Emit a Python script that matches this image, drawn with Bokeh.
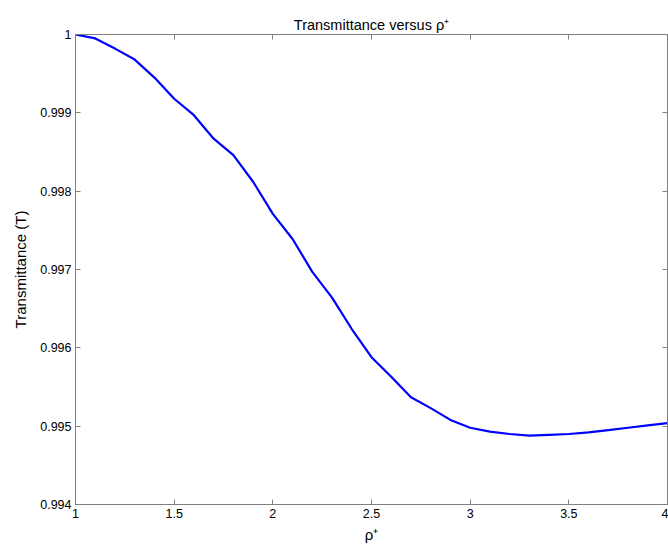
from bokeh.plotting import figure
from bokeh.models import LinearAxis, FixedTicker, Range1d
from bokeh.embed import file_html
from bokeh.resources import INLINE

# data
rho = [1.0, 1.1, 1.2, 1.3, 1.4, 1.5, 1.6, 1.7, 1.8, 1.9, 2.0,
       2.1, 2.2, 2.3, 2.4, 2.5, 2.6, 2.7, 2.8, 2.9, 3.0,
       3.1, 3.2, 3.3, 3.4, 3.5, 3.6, 3.7, 3.8, 3.9, 4.0]
transmittance = [1.0, 0.99995, 0.99982, 0.99968, 0.99945, 0.99918, 0.99897, 0.99867, 0.99846, 0.99812, 0.99771,
                 0.99739, 0.99697, 0.99664, 0.99624, 0.99588, 0.99563, 0.99537, 0.99523, 0.99508, 0.99498,
                 0.99493, 0.99490, 0.99488, 0.99489, 0.99490, 0.99492, 0.99495, 0.99498, 0.99501, 0.99504]

x_ticks = [1, 1.5, 2, 2.5, 3, 3.5, 4]
x_tick_labels = ["1", "1.5", "2", "2.5", "3", "3.5", "4"]
y_ticks = [0.994, 0.995, 0.996, 0.997, 0.998, 0.999, 1.0]
y_tick_labels = ["0.994", "0.995", "0.996", "0.997", "0.998", "0.999", "1"]

FONT = "Liberation Sans"
AXC = "#808080"

p = figure(width=668, height=550, output_backend="svg", toolbar_location=None,
           x_range=Range1d(1, 4), y_range=Range1d(0.994, 1.0),
           min_border_left=75, min_border_right=1, min_border_top=34, min_border_bottom=46,
           title="Transmittance versus \u03c1\u207a")
p.title.align = "center"
p.title.text_font = FONT
p.title.text_font_size = "14.5px"
p.title.text_font_style = "normal"
p.title.text_color = "black"
p.title.offset = 0
p.title.standoff = 4

p.line(rho, transmittance, line_color="#0000ff", line_width=2.2)

p.xgrid.visible = False
p.ygrid.visible = False
p.outline_line_color = AXC
p.background_fill_color = "white"
p.border_fill_color = "white"

def style(ax):
    ax.axis_line_color = AXC
    ax.major_tick_line_color = AXC
    ax.major_tick_in = 5
    ax.major_tick_out = 0
    ax.minor_tick_in = 0
    ax.minor_tick_out = 0
    ax.major_label_text_font = FONT
    ax.major_label_text_font_size = "12.5px"
    ax.major_label_text_color = "black"
    ax.major_label_standoff = 4
    ax.axis_label_text_font = FONT
    ax.axis_label_text_font_style = "normal"
    ax.axis_label_text_font_size = "15px"
    ax.axis_label_text_color = "black"

xa = p.xaxis[0]
xa.ticker = FixedTicker(ticks=x_ticks)
xa.major_label_overrides = {t: l for t, l in zip(x_ticks, x_tick_labels)}
xa.axis_label = "\u03c1\u207a"
xa.axis_label_standoff = 5
style(xa)

ya = p.yaxis[0]
ya.ticker = FixedTicker(ticks=y_ticks)
ya.major_label_overrides = {t: l for t, l in zip(y_ticks, y_tick_labels)}
ya.axis_label = "Transmittance (T)"
ya.axis_label_standoff = 8
style(ya)

top = LinearAxis(ticker=FixedTicker(ticks=x_ticks))
style(top)
top.major_label_overrides = {t: "" for t in x_ticks}
top.major_label_standoff = 0
p.add_layout(top, "above")
right = LinearAxis(ticker=FixedTicker(ticks=y_ticks))
style(right)
right.major_label_overrides = {t: "" for t in y_ticks}
right.major_label_standoff = 0
p.add_layout(right, "right")

open("out.html", "w").write(file_html(p, INLINE))
